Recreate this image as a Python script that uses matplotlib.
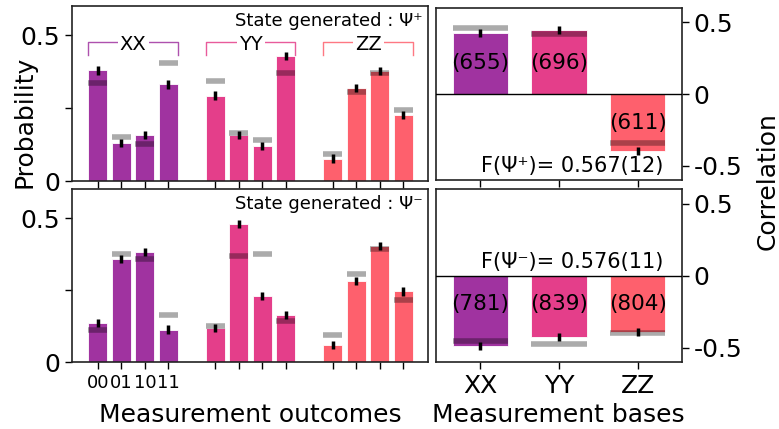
import numpy as np
import matplotlib
matplotlib.use("Agg")
import matplotlib.pyplot as plt

# measured outcome probabilities (00, 01, 10, 11) for each basis
outcomes = ['00', '01', '10', '11']
bases = ['XX', 'YY', 'ZZ']
colors = ['#a033a0', '#e43e8a', '#fe606d']

prob_plus = [[0.379, 0.130, 0.158, 0.331],
             [0.293, 0.158, 0.121, 0.429],
             [0.077, 0.320, 0.376, 0.225]]
ref_plus = [[0.337, 0.152, 0.128, 0.403],
            [0.342, 0.164, 0.140, 0.371],
            [0.094, 0.305, 0.370, 0.244]]
prob_minus = [[0.134, 0.359, 0.381, 0.113],
              [0.119, 0.479, 0.228, 0.163],
              [0.059, 0.281, 0.403, 0.245]]
ref_minus = [[0.111, 0.375, 0.357, 0.165],
             [0.125, 0.368, 0.375, 0.142],
             [0.094, 0.305, 0.393, 0.217]]
prob_err = 0.014

# correlations per basis
corr_plus = [0.426, 0.449, -0.394]
corr_ref_plus = [0.463, 0.417, -0.338]
counts_plus = ['(655)', '(696)', '(611)']
corr_minus = [-0.491, -0.426, -0.391]
corr_ref_minus = [-0.456, -0.474, -0.400]
counts_minus = ['(781)', '(839)', '(804)']
corr_err = 0.027
fid_plus = 'F(Ψ⁺)= 0.567(12)'
fid_minus = 'F(Ψ⁻)= 0.576(11)'

fig = plt.figure(figsize=(7.79, 4.29), dpi=100)
ax1 = fig.add_axes([0.0924, 0.578, 0.457, 0.408])
ax2 = fig.add_axes([0.0924, 0.156, 0.457, 0.403])
ax3 = fig.add_axes([0.5597, 0.580, 0.3158, 0.401])
ax4 = fig.add_axes([0.5597, 0.156, 0.3158, 0.403])


def prob_panel(ax, probs, refs, state, brackets):
    for g in range(3):
        xs = np.arange(4) + 5 * g
        ax.bar(xs, probs[g], width=0.8, color=colors[g], edgecolor='white', linewidth=0.6, zorder=2)
        ax.hlines(refs[g], xs - 0.4, xs + 0.4, color='k', alpha=0.33, linewidth=4, zorder=3)
        ax.errorbar(xs, probs[g], yerr=prob_err, fmt='none', ecolor='k', elinewidth=2.5, zorder=4)
        if brackets:
            x0, x1 = xs[0] - 0.4, xs[-1] + 0.4
            ax.plot([x0, x0, x1, x1], [0.431, 0.475, 0.475, 0.431], color=colors[g], lw=1, alpha=0.85, zorder=1)
            ax.text(xs.mean(), 0.468, bases[g], ha='center', va='center', fontsize=14,
                    bbox=dict(facecolor='white', edgecolor='none', pad=1.5), zorder=5)
    ax.set_xlim(-1.1, 14.05)
    ax.set_ylim(0, 0.6)
    ax.set_yticks([0, 0.25, 0.5])
    ax.set_yticklabels(['0', '', '0.5'], fontsize=18)
    ax.set_xticks([0, 1, 2, 3, 5, 6, 7, 8, 10, 11, 12, 13])
    ax.tick_params(length=5, width=1)
    ax.text(0.985, 0.915, 'State generated : ' + state, transform=ax.transAxes,
            ha='right', va='center', fontsize=13)


prob_panel(ax1, prob_plus, ref_plus, 'Ψ⁺', True)
prob_panel(ax2, prob_minus, ref_minus, 'Ψ⁻', False)
ax1.set_xticklabels([])
ax2.set_xticklabels(outcomes + [''] * 8, fontsize=13)


def corr_panel(ax, corr, refs, counts, fid, fid_y):
    xs = np.arange(3)
    ax.bar(xs, corr, width=0.7, color=colors, edgecolor='white', linewidth=0.6, zorder=2)
    ax.hlines(refs, xs - 0.35, xs + 0.35, color='k', alpha=0.33, linewidth=4, zorder=3)
    ax.errorbar(xs, corr, yerr=corr_err, fmt='none', ecolor='k', elinewidth=2.5, zorder=4)
    ax.axhline(0, color='k', lw=1, zorder=5)
    for i in range(3):
        ty = 0.22 if corr[i] > 0 else -0.2
        ax.text(xs[i], ty, counts[i], ha='center', va='center', fontsize=15.5, zorder=5)
    ax.text(2.32, fid_y, fid, ha='right', va='center', fontsize=15)
    ax.set_xlim(-0.56, 2.56)
    ax.set_ylim(-0.6, 0.6)
    ax.set_xticks(xs)
    ax.yaxis.tick_right()
    ax.set_yticks([-0.5, 0, 0.5])
    ax.set_yticklabels(['-0.5', '0', '0.5'], fontsize=18)
    ax.tick_params(length=5, width=1)


corr_panel(ax3, corr_plus, corr_ref_plus, counts_plus, fid_plus, -0.5)
corr_panel(ax4, corr_minus, corr_ref_minus, counts_minus, fid_minus, 0.095)
ax3.set_xticklabels([])
ax4.set_xticklabels(bases, fontsize=18)

for ax in (ax1, ax2, ax3, ax4):
    for s in ax.spines.values():
        s.set_linewidth(1.2)
        s.set_color('#222222')

fig.text(0.032, 0.716, 'Probability', rotation=90, ha='center', va='center', fontsize=18)
fig.text(0.985, 0.578, 'Correlation', rotation=90, ha='center', va='center', fontsize=18)
fig.text(0.321, 0.033, 'Measurement outcomes', ha='center', va='center', fontsize=18)
fig.text(0.717, 0.033, 'Measurement bases', ha='center', va='center', fontsize=18)

fig.savefig('out.png', dpi=100)
